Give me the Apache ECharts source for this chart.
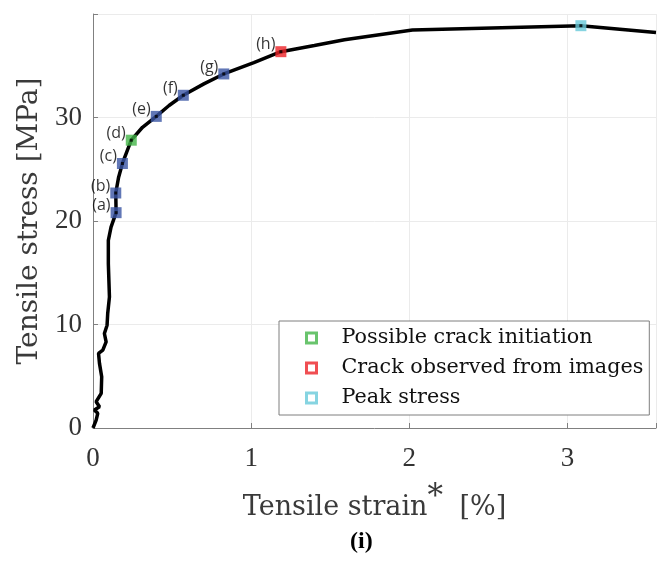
<!DOCTYPE html>
<html>
<head>
<meta charset="utf-8">
<script src="https://cdn.jsdelivr.net/npm/echarts@6/dist/echarts.min.js"></script>
<style>
  html, body { margin: 0; padding: 0; background: #fff; }
  #chart { width: 659px; height: 561px; }
</style>
</head>
<body>
<div id="chart"></div>
<script>
// stress-strain curve
const strain = [0, 0.009, 0.02, 0.03, 0.009, 0.041, 0.02, 0.052, 0.055, 0.041, 0.035, 0.062, 0.083,
  0.072, 0.089, 0.093, 0.104, 0.097, 0.097, 0.114, 0.146, 0.144, 0.162, 0.186, 0.213, 0.242, 0.313,
  0.40, 0.481, 0.571, 0.701, 0.827, 1.017, 1.188, 1.40, 1.59, 2.02, 3.085, 3.56];
const stress = [0, 0.13, 0.77, 1.42, 1.74, 2.05, 2.54, 3.35, 4.95, 6.24, 7.2, 7.52, 8.32,
  9.13, 9.93, 11.06, 12.66, 15.88, 18.13, 19.41, 20.8, 22.7, 24.23, 25.55, 26.64, 27.8, 29.05,
  30.1, 31.15, 32.14, 33.24, 34.2, 35.3, 36.35, 36.95, 37.5, 38.45, 38.86, 38.2];

// marked points
const markStrain = [0.146, 0.144, 0.186, 0.242, 0.40, 0.571, 0.827, 1.188, 3.085];
const markStress = [20.8, 22.7, 25.55, 27.8, 30.1, 32.14, 34.2, 36.35, 38.86];
const markLabels = ["(a)", "(b)", "(c)", "(d)", "(e)", "(f)", "(g)", "(h)", ""];
const markGroup = ["stage", "stage", "stage", "init", "stage", "stage", "stage", "crack", "peak"];

const groups = [
  { key: "stage", name: "", color: "#3a55a4" },
  { key: "init", name: "Possible crack initiation", color: "#43b549" },
  { key: "crack", name: "Crack observed from images", color: "#ec2227" },
  { key: "peak", name: "Peak stress", color: "#68c9da" },
];

const xTicks = [0, 1, 2, 3];
const yTicks = [0, 10, 20, 30];

const serif = "Liberation Serif";
const wideSerif = "DejaVu Serif";

const chart = echarts.init(document.getElementById("chart"));

const markerSeries = groups.map((g) => ({
  name: g.name || "stages",
  type: "scatter",
  symbol: "rect",
  symbolSize: 11,
  z: 5,
  itemStyle: { color: g.color },
  label: {
    show: true,
    position: "left",
    distance: 0,
    offset: [0, -7],
    fontFamily: "Open Sans",
    fontSize: 16,
    color: "#000",
    formatter: (p) => p.data[2],
  },
  data: markStrain
    .map((x, i) => [x, markStress[i], markLabels[i], markGroup[i]])
    .filter((d) => d[3] === g.key),
}));

// little black dot at the centre of each marker (the line showing through)
const dotSeries = {
  name: "dots",
  type: "scatter",
  symbol: "rect",
  symbolSize: 3,
  z: 6,
  silent: true,
  itemStyle: { color: "#000" },
  data: markStrain.map((x, i) => [x, markStress[i]]),
};

const options = {
  animation: false,
  backgroundColor: "#fff",
  grid: { left: 93, right: 0, top: 14, bottom: 133 },
  xAxis: {
    type: "value",
    min: 0,
    max: 3.56,
    interval: 1,
    name: "{t|Tensile strain}{s|*}{t| [%]}",
    nameLocation: "middle",
    nameGap: 54,
    nameTextStyle: {
      rich: {
        t: { fontFamily: wideSerif, fontSize: 27, color: "#3a3a3a" },
        s: { fontFamily: wideSerif, fontSize: 31, color: "#3a3a3a", padding: [0, 8, 20, 0] },
      },
    },
    axisLine: { lineStyle: { color: "#808080", width: 1 } },
    axisTick: { inside: true, length: 5, lineStyle: { color: "#808080" } },
    splitLine: { show: true, lineStyle: { color: "#ebebeb" } },
    axisLabel: {
      margin: 17,
      fontFamily: serif,
      fontSize: 27,
      color: "#333",
      formatter: (v) => (xTicks.includes(v) ? String(v) : ""),
    },
  },
  yAxis: {
    type: "value",
    min: 0,
    max: 39.99,
    interval: 10,
    name: "Tensile stress [MPa]",
    nameLocation: "middle",
    nameGap: 46,
    nameTextStyle: { fontFamily: wideSerif, fontSize: 28, color: "#3a3a3a" },
    axisLine: { show: true, lineStyle: { color: "#808080", width: 1 } },
    axisTick: { show: true, inside: true, length: 5, lineStyle: { color: "#808080" } },
    splitLine: { show: true, lineStyle: { color: "#ebebeb" } },
    axisLabel: {
      margin: 11,
      fontFamily: serif,
      fontSize: 27,
      color: "#333",
      formatter: (v) => (yTicks.includes(v) ? String(v) : ""),
    },
  },
  legend: {
    orient: "vertical",
    left: 279,
    top: 321,
    padding: [6, 6, 6, 26],
    itemGap: 8,
    itemWidth: 10,
    itemHeight: 10,
    borderColor: "#7f7f7f",
    borderWidth: 1,
    borderRadius: 0,
    backgroundColor: "#fff",
    textStyle: { fontFamily: wideSerif, fontSize: 20.7, color: "#111", lineHeight: 22, padding: [0, 0, 0, 20] },
    data: groups
      .filter((g) => g.name)
      .map((g) => ({
        name: g.name,
        icon: "rect",
        itemStyle: { color: "#fff", borderColor: g.color, borderWidth: 3 },
      })),
  },
  graphic: [
    {
      type: "text",
      left: 350,
      top: 530,
      style: { text: "(i)", fontFamily: serif, fontWeight: "bold", fontSize: 24, fill: "#000" },
    },
  ],
  series: [
    {
      name: "curve",
      type: "line",
      showSymbol: false,
      symbol: "none",
      z: 3,
      lineStyle: { color: "#000", width: 3.5 },
      data: strain.map((x, i) => [x, stress[i]]),
    },
    ...markerSeries,
    dotSeries,
  ],
};

chart.setOption(options);
</script>
</body>
</html>
